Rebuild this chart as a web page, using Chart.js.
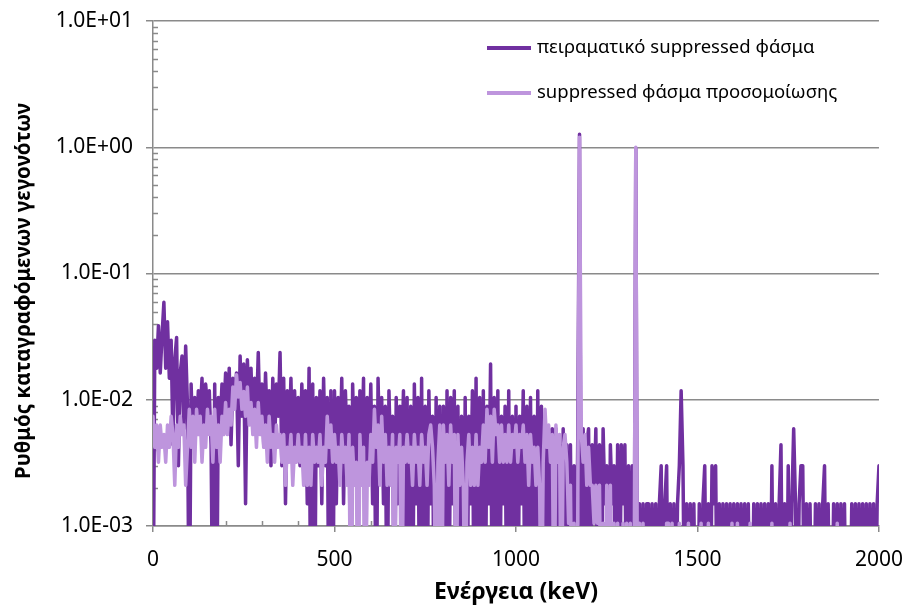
<!DOCTYPE html>
<html>
<head>
<meta charset="utf-8">
<script src="https://cdn.jsdelivr.net/npm/chart.js@4.4.1/dist/chart.umd.min.js"></script>
<style>
  html, body { margin: 0; padding: 0; background: #fff; }
</style>
</head>
<body>
<canvas id="chart" width="903" height="605"></canvas>
<script>
// channel energies (keV), 5 keV bins
const energies = [
  0, 5, 10, 15, 20, 25, 30, 35, 40, 45, 50, 55, 60, 65, 70, 75, 80, 85, 90, 95,
  100, 105, 110, 115, 120, 125, 130, 135, 140, 145, 150, 155, 160, 165, 170, 175, 180, 185, 190, 195,
  200, 205, 210, 215, 220, 225, 230, 235, 240, 245, 250, 255, 260, 265, 270, 275, 280, 285, 290, 295,
  300, 305, 310, 315, 320, 325, 330, 335, 340, 345, 350, 355, 360, 365, 370, 375, 380, 385, 390, 395,
  400, 405, 410, 415, 420, 425, 430, 435, 440, 445, 450, 455, 460, 465, 470, 475, 480, 485, 490, 495,
  500, 505, 510, 515, 520, 525, 530, 535, 540, 545, 550, 555, 560, 565, 570, 575, 580, 585, 590, 595,
  600, 605, 610, 615, 620, 625, 630, 635, 640, 645, 650, 655, 660, 665, 670, 675, 680, 685, 690, 695,
  700, 705, 710, 715, 720, 725, 730, 735, 740, 745, 750, 755, 760, 765, 770, 775, 780, 785, 790, 795,
  800, 805, 810, 815, 820, 825, 830, 835, 840, 845, 850, 855, 860, 865, 870, 875, 880, 885, 890, 895,
  900, 905, 910, 915, 920, 925, 930, 935, 940, 945, 950, 955, 960, 965, 970, 975, 980, 985, 990, 995,
  1000, 1005, 1010, 1015, 1020, 1025, 1030, 1035, 1040, 1045, 1050, 1055, 1060, 1065, 1070, 1075, 1080, 1085, 1090, 1095,
  1100, 1105, 1110, 1115, 1120, 1125, 1130, 1135, 1140, 1145, 1150, 1155, 1160, 1165, 1170, 1175, 1180, 1185, 1190, 1195,
  1200, 1205, 1210, 1215, 1220, 1225, 1230, 1235, 1240, 1245, 1250, 1255, 1260, 1265, 1270, 1275, 1280, 1285, 1290, 1295,
  1300, 1305, 1310, 1315, 1320, 1325, 1330, 1335, 1340, 1345, 1350, 1355, 1360, 1365, 1370, 1375, 1380, 1385, 1390, 1395,
  1400, 1405, 1410, 1415, 1420, 1425, 1430, 1435, 1440, 1445, 1450, 1455, 1460, 1465, 1470, 1475, 1480, 1485, 1490, 1495,
  1500, 1505, 1510, 1515, 1520, 1525, 1530, 1535, 1540, 1545, 1550, 1555, 1560, 1565, 1570, 1575, 1580, 1585, 1590, 1595,
  1600, 1605, 1610, 1615, 1620, 1625, 1630, 1635, 1640, 1645, 1650, 1655, 1660, 1665, 1670, 1675, 1680, 1685, 1690, 1695,
  1700, 1705, 1710, 1715, 1720, 1725, 1730, 1735, 1740, 1745, 1750, 1755, 1760, 1765, 1770, 1775, 1780, 1785, 1790, 1795,
  1800, 1805, 1810, 1815, 1820, 1825, 1830, 1835, 1840, 1845, 1850, 1855, 1860, 1865, 1870, 1875, 1880, 1885, 1890, 1895,
  1900, 1905, 1910, 1915, 1920, 1925, 1930, 1935, 1940, 1945, 1950, 1955, 1960, 1965, 1970, 1975, 1980, 1985, 1990, 1995,
  2000
];

// measured suppressed spectrum (counts/s per channel)
const experimental = [
  0, 0.0296, 0.0178, 0.0385, 0.0163, 0.0326, 0.0592, 0.0178, 0.0414, 0.0148, 0.0296, 0.0044, 0.0207, 0.0311, 0.003, 0.0163, 0.0222, 0.0059, 0.0266, 0.0089,
  0, 0.0133, 0.0044, 0.0104, 0.0059, 0.0118, 0.0074, 0.0148, 0.0044, 0.0133, 0.0089, 0.0118, 0.0044, 0, 0.0133, 0, 0.0104, 0.0059, 0.0133, 0.0074,
  0.0163, 0.0059, 0.0178, 0.0044, 0.0148, 0.0089, 0.0163, 0.003, 0.0222, 0.0074, 0.0192, 0.0015, 0.0207, 0.0089, 0.0178, 0.0059, 0.0148, 0.0074, 0.0237, 0.0059,
  0.0133, 0.0044, 0.0163, 0.0059, 0.0118, 0.003, 0.0148, 0.0044, 0.0133, 0.0074, 0.0237, 0.003, 0.0148, 0.0015, 0.0118, 0.0044, 0.0148, 0.003, 0.0118, 0.0044,
  0.0104, 0.003, 0.0133, 0.0044, 0.0118, 0.0015, 0.0178, 0, 0.0133, 0, 0.0104, 0.003, 0.0118, 0.0015, 0.0148, 0.003, 0.0104, 0, 0.0118, 0,
  0.0118, 0.0015, 0.0104, 0.003, 0.0148, 0.0015, 0.0118, 0.0044, 0.0089, 0, 0.0133, 0.003, 0.0104, 0.0015, 0.0118, 0.003, 0.0148, 0, 0.0104, 0.003,
  0.0133, 0.0015, 0.0089, 0, 0.0148, 0.003, 0.0104, 0.0015, 0.0089, 0, 0.0118, 0.003, 0.0074, 0, 0.0104, 0.0015, 0.0089, 0.003, 0.0118, 0,
  0.0104, 0, 0.0089, 0, 0.0133, 0.0015, 0.0104, 0, 0.0148, 0, 0.0089, 0, 0.0118, 0.0015, 0.0074, 0, 0.0104, 0, 0.0089, 0,
  0.0089, 0, 0.0118, 0, 0.0104, 0.0015, 0.0118, 0, 0.0089, 0, 0.0074, 0, 0.0104, 0, 0.0074, 0.0015, 0.0118, 0, 0.0148, 0,
  0.0104, 0, 0.0118, 0, 0.0089, 0.0015, 0.0192, 0, 0.0104, 0, 0.0118, 0, 0.0074, 0.0015, 0.0089, 0, 0.0118, 0, 0.0074, 0,
  0.0089, 0, 0.0074, 0.0015, 0.0118, 0, 0.0089, 0, 0.0104, 0, 0.0074, 0, 0.0118, 0, 0.0089, 0.0015, 0.0059, 0, 0.0059, 0,
  0.0059, 0, 0.0059, 0, 0.0044, 0, 0.0059, 0, 0.0044, 0, 0.0044, 0, 0.003, 0, 0.0044, 1.27, 0, 0.0059, 0, 0.0044,
  0.0059, 0, 0.0044, 0.0015, 0.0059, 0, 0.0044, 0, 0.0059, 0.0015, 0.003, 0, 0.0044, 0.0015, 0.003, 0, 0.0044, 0, 0.0044, 0.0015,
  0.0044, 0, 0.003, 0, 0.003, 0, 0.98, 0, 0.0015, 0, 0.0015, 0, 0.0015, 0.0015, 0, 0.0015, 0, 0.0015, 0, 0.0015,
  0.003, 0, 0.0015, 0.003, 0, 0.0015, 0, 0.0015, 0, 0.0015, 0.003, 0.0118, 0.003, 0, 0.0015, 0, 0.0015, 0, 0.0015, 0,
  0, 0.0015, 0, 0.0015, 0.003, 0, 0.0015, 0, 0.003, 0.0015, 0.003, 0, 0.0015, 0, 0.0015, 0, 0.0015, 0, 0.0015, 0,
  0.0015, 0, 0.0015, 0, 0.0015, 0, 0.0015, 0, 0.0015, 0, 0, 0.0015, 0, 0.0015, 0, 0.0015, 0, 0.0015, 0, 0.0015,
  0, 0.003, 0, 0.0015, 0, 0.0015, 0.0044, 0, 0.0015, 0, 0.003, 0, 0.0015, 0.0059, 0.0015, 0, 0.0015, 0.003, 0.003, 0,
  0.0015, 0, 0.0015, 0, 0, 0.0015, 0, 0.0015, 0, 0.0015, 0.003, 0, 0.0015, 0, 0, 0.0015, 0, 0.0015, 0, 0.0015,
  0, 0.0015, 0, 0, 0, 0.0015, 0, 0.0015, 0, 0.0015, 0, 0.0015, 0, 0.0015, 0, 0.0015, 0, 0.0015, 0, 0.0015,
  0.003
];

// simulated suppressed spectrum (counts/s per channel)
const simulated = [
  0.0074, 0.0042, 0.0063, 0.0032, 0.0063, 0.0042, 0.0053, 0.0032, 0.0063, 0.0042, 0.0074, 0.0053, 0.0021, 0.0063, 0.0042, 0.0074, 0.0053, 0.0063, 0.0021, 0.0042,
  0.0084, 0.0042, 0.0074, 0.0032, 0.0084, 0.0053, 0.0074, 0.0032, 0.0063, 0.0042, 0.0084, 0.0053, 0.0074, 0.0032, 0.0084, 0.0042, 0.0063, 0.0032, 0.0074, 0.0053,
  0.0095, 0.0053, 0.0084, 0.0063, 0.0126, 0.0084, 0.0158, 0.0105, 0.0137, 0.0084, 0.0116, 0.0074, 0.0126, 0.0063, 0.0095, 0.0053, 0.0084, 0.0042, 0.0095, 0.0053,
  0.0074, 0.0042, 0.0063, 0.0032, 0.0074, 0.0042, 0.0053, 0.0032, 0.0063, 0.0042, 0.0053, 0.0032, 0.0053, 0.0021, 0.0042, 0.0032, 0.0053, 0.0021, 0.0042, 0.0032,
  0.0053, 0.0032, 0.0042, 0.0021, 0.0053, 0.0021, 0.0042, 0.0021, 0.0053, 0.0032, 0.0042, 0.0032, 0.0053, 0.0021, 0.0042, 0.0032, 0.0074, 0.0042, 0.0063, 0.0032,
  0.0053, 0.0032, 0.0042, 0.0021, 0.0053, 0.0032, 0.0042, 0.0021, 0.0053, 0, 0.0042, 0.0021, 0.0032, 0, 0.0053, 0.0021, 0.0042, 0, 0.0032, 0.0021,
  0.0053, 0.0032, 0.0084, 0.0042, 0.0063, 0.0021, 0.0074, 0.0032, 0.0053, 0.0021, 0.0042, 0.0021, 0.0053, 0, 0.0042, 0.0032, 0.0053, 0, 0.0042, 0.0032,
  0.0053, 0.0032, 0.0042, 0.0021, 0.0053, 0.0032, 0.0042, 0.0021, 0.0053, 0.0032, 0.0042, 0.0021, 0.0053, 0.0063, 0.0042, 0.0021, 0, 0.0032, 0.0063, 0,
  0.0063, 0.0032, 0.0053, 0.0021, 0.0063, 0.0032, 0.0053, 0, 0.0053, 0.0021, 0.0042, 0.0021, 0, 0.0032, 0.0053, 0.0021, 0.0042, 0.0021, 0.0053, 0.0021,
  0.0042, 0.0032, 0.0063, 0.0032, 0.0084, 0.0042, 0.0074, 0.0032, 0.0084, 0.0053, 0.0063, 0.0032, 0.0063, 0.0032, 0.0053, 0.0032, 0.0063, 0.0032, 0.0053, 0.0042,
  0.0063, 0.0032, 0.0053, 0.0042, 0.0063, 0.0032, 0.0053, 0.0021, 0.0053, 0.0032, 0.0042, 0.0021, 0.0042, 0.0021, 0, 0.0032, 0.0084, 0.0042, 0.0063, 0.0032,
  0.0053, 0, 0.0063, 0.0032, 0.0053, 0, 0.0042, 0.0053, 0.0032, 0.00105, 0.0021, 0, 0.00105, 0, 0.00105, 1.2, 0.0053, 0.0032, 0.0053, 0.0021,
  0.0042, 0.0021, 0.0021, 0.00105, 0.0021, 0.00105, 0.0021, 0, 0.00105, 0, 0.0021, 0, 0.0021, 0, 0.00105, 0, 0.00105, 0, 0, 0.00105,
  0, 0.00105, 0, 0.00105, 0, 0, 1.0, 0, 0.00105, 0, 0.00105, 0, 0, 0, 0, 0, 0, 0, 0, 0,
  0, 0, 0, 0.00105, 0.00105, 0, 0.00105, 0, 0, 0, 0.00105, 0, 0, 0, 0, 0.00105, 0, 0, 0, 0,
  0, 0, 0.00105, 0, 0, 0, 0.00105, 0, 0, 0, 0, 0, 0, 0, 0, 0, 0, 0, 0, 0.00105,
  0, 0, 0.00105, 0, 0, 0, 0, 0, 0, 0.00105, 0, 0, 0, 0, 0, 0, 0, 0, 0, 0,
  0, 0.00105, 0, 0, 0, 0, 0, 0, 0, 0, 0, 0.00105, 0, 0, 0, 0, 0, 0, 0, 0,
  0, 0, 0, 0, 0, 0, 0, 0, 0, 0, 0, 0, 0, 0, 0, 0, 0, 0.00105, 0, 0,
  0, 0, 0, 0, 0, 0, 0, 0, 0, 0, 0, 0, 0, 0, 0, 0, 0, 0, 0, 0,
  0
];

const seriesNames = ['πειραματικό suppressed φάσμα', 'suppressed φάσμα προσομοίωσης'];
const seriesColors = ['#7030A0', '#BE95DD'];
const xTicks = [0, 500, 1000, 1500, 2000];
const yTicks = [0.001, 0.01, 0.1, 1, 10];

const FONT = "'Noto Sans', sans-serif";
const GRID = '#8a8a8a';
// empty channels sit below the axis floor so the trace drops to the bottom edge
const EMPTY = 1e-4;

function toPoints(values) {
  return energies.map((e, i) => ({ x: e, y: values[i] > 0 ? values[i] : EMPTY }));
}

function sci(v) {
  const e = Math.round(Math.log10(v));
  const m = v / Math.pow(10, e);
  return m.toFixed(1) + 'E' + (e < 0 ? '-' : '+') + String(Math.abs(e)).padStart(2, '0');
}

// short inner ticks: 2..9 on every decade, every 100 keV on the energy axis
const minorTicks = {
  id: 'minorTicks',
  beforeDatasetsDraw(chart) {
    const { ctx, chartArea, scales: { x, y } } = chart;
    ctx.save();
    ctx.strokeStyle = GRID;
    ctx.lineWidth = 1.5;
    ctx.beginPath();
    for (let d = 0; d < yTicks.length - 1; d++) {
      for (let m = 2; m <= 9; m++) {
        const py = Math.round(y.getPixelForValue(yTicks[d] * m)) + 0.5;
        ctx.moveTo(chartArea.left, py);
        ctx.lineTo(chartArea.left + 5, py);
      }
    }
    for (let e = 100; e < 2000; e += 100) {
      if (xTicks.includes(e)) continue;
      const px = Math.round(x.getPixelForValue(e)) + 0.5;
      ctx.moveTo(px, chartArea.bottom);
      ctx.lineTo(px, chartArea.bottom - 5);
    }
    ctx.stroke();
    ctx.restore();
  }
};

// legend box in the upper right of the plot, plus the rotated y title
const decorations = {
  id: 'decorations',
  afterDraw(chart) {
    const { ctx, chartArea } = chart;
    ctx.save();
    chart.data.datasets.forEach((ds, i) => {
      const ly = chartArea.top + 27 + i * 45;
      const lx = chartArea.left + 334;
      ctx.strokeStyle = ds.borderColor;
      ctx.lineWidth = 4;
      ctx.beginPath();
      ctx.moveTo(lx, ly);
      ctx.lineTo(lx + 44, ly);
      ctx.stroke();
      ctx.fillStyle = '#000';
      ctx.font = '18.5px ' + FONT;
      ctx.textAlign = 'left';
      ctx.textBaseline = 'middle';
      ctx.fillText(ds.label, lx + 50, ly);
    });

    ctx.translate(24, 291);
    ctx.rotate(-Math.PI / 2);
    ctx.font = 'bold 20.5px ' + FONT;
    ctx.fillStyle = '#000';
    ctx.textAlign = 'center';
    ctx.textBaseline = 'middle';
    ctx.fillText('Ρυθμός καταγραφόμενων γεγονότων', 0, 0);
    ctx.restore();
  }
};

const lineStyle = {
  borderWidth: 3.5,
  pointRadius: 0,
  tension: 0,
  borderJoinStyle: 'round',
  borderCapStyle: 'round',
  clip: 0
};

new Chart(document.getElementById('chart'), {
  type: 'line',
  data: {
    datasets: [
      { ...lineStyle, label: seriesNames[0], data: toPoints(experimental), borderColor: seriesColors[0], order: 2 },
      { ...lineStyle, label: seriesNames[1], data: toPoints(simulated), borderColor: seriesColors[1], order: 1 }
    ]
  },
  options: {
    responsive: false,
    animation: false,
    devicePixelRatio: 1,
    parsing: false,
    layout: { padding: { top: 21, right: 0, bottom: 0, left: 0 } },
    plugins: {
      legend: { display: false },
      tooltip: { enabled: false }
    },
    scales: {
      x: {
        type: 'linear',
        min: 0,
        max: 2000,
        afterBuildTicks: s => { s.ticks = xTicks.map(v => ({ value: v })); },
        afterFit: s => { s.height = 79; },
        ticks: {
          autoSkip: false, maxRotation: 0, padding: 0, color: '#000',
          // tall line box pushes the labels down from the axis without widening the side padding
          font: { family: FONT, size: 21, lineHeight: 2.7 },
          callback: v => String(v)
        },
        grid: { drawOnChartArea: false, tickLength: 6, color: GRID, lineWidth: 1.5 },
        border: { color: GRID, width: 1.5 },
        title: {
          display: true,
          text: 'Ενέργεια (keV)',
          color: '#000',
          font: { family: FONT, size: 23, weight: 'bold', lineHeight: 1 },
          padding: { top: 0, bottom: 1 }
        }
      },
      y: {
        type: 'logarithmic',
        min: 0.001,
        max: 10,
        afterBuildTicks: s => { s.ticks = yTicks.map(v => ({ value: v })); },
        afterFit: s => { s.width = 153; },
        ticks: {
          autoSkip: false, padding: 13, color: '#000',
          font: { family: FONT, size: 21, lineHeight: 0.7 },
          callback: v => sci(v)
        },
        grid: { color: GRID, lineWidth: 1.5, tickLength: 7 },
        border: { color: GRID, width: 1.5 }
      }
    }
  },
  plugins: [minorTicks, decorations]
});
</script>
</body>
</html>
